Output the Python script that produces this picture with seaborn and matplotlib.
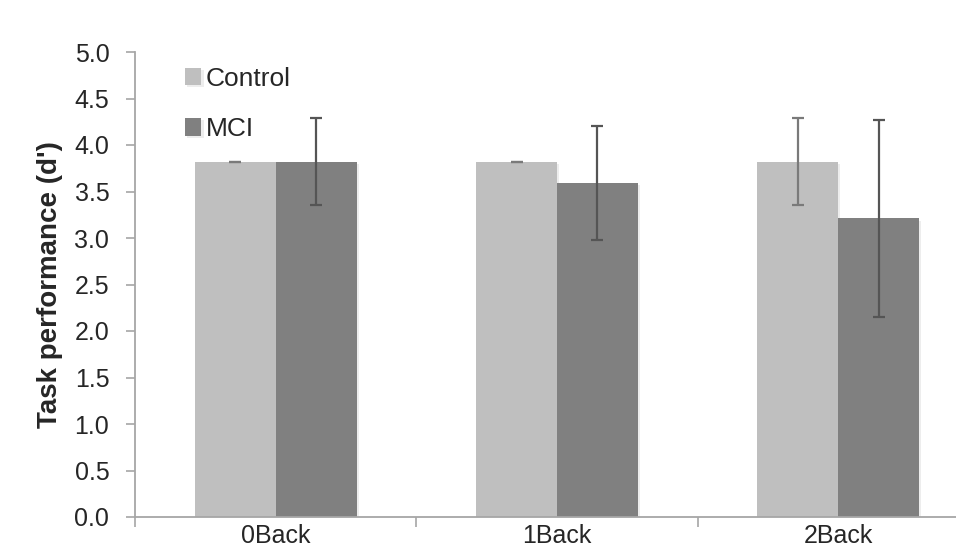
import numpy as np
import pandas as pd
import matplotlib
matplotlib.use("Agg")
import matplotlib.pyplot as plt
import matplotlib.patheffects as pe
import seaborn as sns

# data
tasks = ["0Back", "1Back", "2Back"]
groups = ["Control", "MCI"]
control_mean = [3.82, 3.82, 3.82]
mci_mean = [3.82, 3.59, 3.21]
control_err = [0.0, 0.0, 0.47]
mci_err = [0.47, 0.61, 1.055]

df = pd.DataFrame({
    "task": tasks * 2,
    "group": ["Control"] * 3 + ["MCI"] * 3,
    "score": control_mean + mci_mean,
})

sns.set_style("white")
plt.rcParams["font.family"] = ["Liberation Sans", "DejaVu Sans"]

axis_grey = "#a6a6a6"

fig = plt.figure(figsize=(9.56, 5.51), dpi=100)
ax = fig.add_axes([135 / 956, 34 / 551, 844 / 956, 465 / 551])

sns.barplot(data=df, x="task", y="score", hue="group", hue_order=groups,
            palette={"Control": "#bfbfbf", "MCI": "#808080"},
            width=0.575, gap=0, errorbar=None, saturation=1,
            linewidth=0, ax=ax)

# soft shadow like the original office chart
for p in ax.patches:
    p.set_path_effects([pe.SimplePatchShadow(offset=(1.5, -1.5), alpha=0.07, shadow_rgbFace="k"),
                        pe.Normal()])

# error bars, placed at the centres of seaborn's bars
errs = {"Control": (control_mean, control_err, "#7a7a7a"),
        "MCI": (mci_mean, mci_err, "#555555")}
for cont, g in zip(ax.containers, groups):
    means, e, col = errs[g]
    xs = [b.get_x() + b.get_width() / 2 for b in cont]
    ax.errorbar(xs, means, yerr=e, fmt="none", ecolor=col,
                elinewidth=1.6, capsize=4.3, capthick=1.6, zorder=5)

ax.set_xlim(-0.5, 2.5)
ax.set_ylim(0, 5)
ax.set_yticks(np.arange(0, 5.01, 0.5))
ax.set_yticklabels([f"{v:.1f}" for v in np.arange(0, 5.01, 0.5)])
ax.set_xticks([-0.5, 0.5, 1.5, 2.5], minor=True)

ax.set_xlabel("")
ax.set_ylabel("Task performance (d')", fontsize=20, fontweight="bold", labelpad=8)

for s in ["top", "right"]:
    ax.spines[s].set_visible(False)
for s in ["left", "bottom"]:
    ax.spines[s].set_color(axis_grey)
    ax.spines[s].set_linewidth(1.3)

ax.tick_params(axis="y", which="major", length=6.5, width=1.2, color=axis_grey,
               labelsize=18, pad=12, left=True, direction="out")
ax.tick_params(axis="x", which="major", length=0, labelsize=18, pad=5)
ax.tick_params(axis="x", which="minor", length=7, width=1.2, color=axis_grey,
               bottom=True, direction="out")

ax.legend(loc="upper left", bbox_to_anchor=(0.059, 0.968), frameon=False,
          fontsize=19, handlelength=0.63, handleheight=0.63, handletextpad=0.15,
          labelspacing=1.0, borderpad=0, borderaxespad=0)

fig.savefig("out.png", dpi=100)
